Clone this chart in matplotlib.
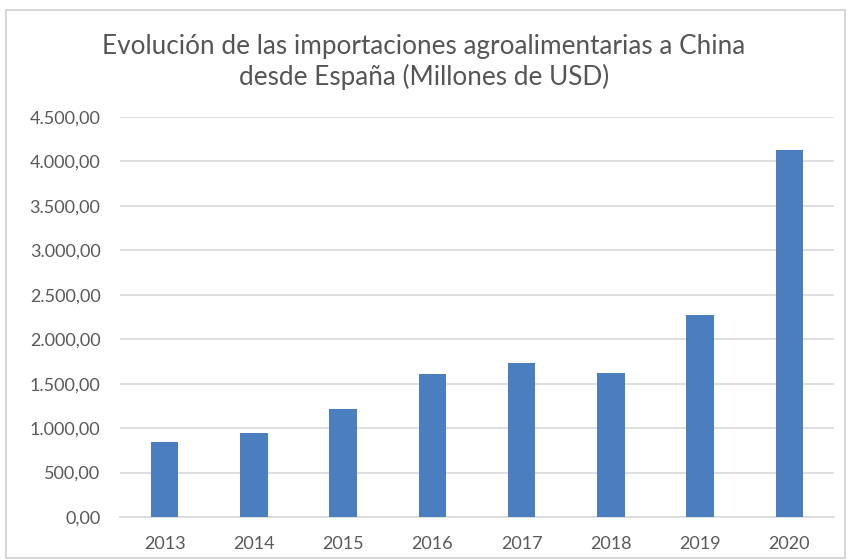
import matplotlib
matplotlib.use("Agg")
import matplotlib.pyplot as plt
from matplotlib.patches import Rectangle
from matplotlib.ticker import FuncFormatter

years = ["2013", "2014", "2015", "2016", "2017", "2018", "2019", "2020"]
values = [840, 945, 1215, 1605, 1730, 1615, 2270, 4125]
yticks = [0, 500, 1000, 1500, 2000, 2500, 3000, 3500, 4000, 4500]
title = "Evolución de las importaciones agroalimentarias a China\ndesde España (Millones de USD)"

plt.rcParams['font.family'] = ['Lato', 'DejaVu Sans']

W, H = 848, 560
fig = plt.figure(figsize=(W / 100, H / 100), dpi=100)
fig.patch.set_facecolor("white")

ax = fig.add_axes([120 / W, 1 - 517 / H, 714 / W, 400 / H])
x = list(range(len(years)))
ax.bar(x, values, width=0.31, color="#4a7ebf", zorder=3)
ax.set_xlim(-0.5, len(years) - 0.5)
ax.set_ylim(0, 4500)
ax.set_yticks(yticks)

def fmt(v, pos):
    s = f"{v:,.2f}"
    return s.replace(",", "X").replace(".", ",").replace("X", ".")

ax.yaxis.set_major_formatter(FuncFormatter(fmt))
ax.set_xticks(x)
ax.set_xticklabels(years)
ax.grid(axis="y", color="#d9d9d9", linewidth=1.2, zorder=0)
for s in ["top", "right", "left"]:
    ax.spines[s].set_visible(False)
ax.spines["bottom"].set_color("#d9d9d9")
ax.spines["bottom"].set_linewidth(1.2)
ax.tick_params(axis="both", length=0, colors="#595959", labelsize=13)
ax.tick_params(axis="y", pad=14)
ax.tick_params(axis="x", pad=14)

fig.text(0.5, 1 - 62 / H, title, ha="center", va="center", fontsize=18.8,
         color="#555555", linespacing=1.27)

fig.patches.append(Rectangle((6 / W, 1 - 558 / H), 839 / W, 548 / H,
                             transform=fig.transFigure, fill=False,
                             edgecolor="#d0d0d0", linewidth=1.2))

fig.savefig("out.png", dpi=100)
